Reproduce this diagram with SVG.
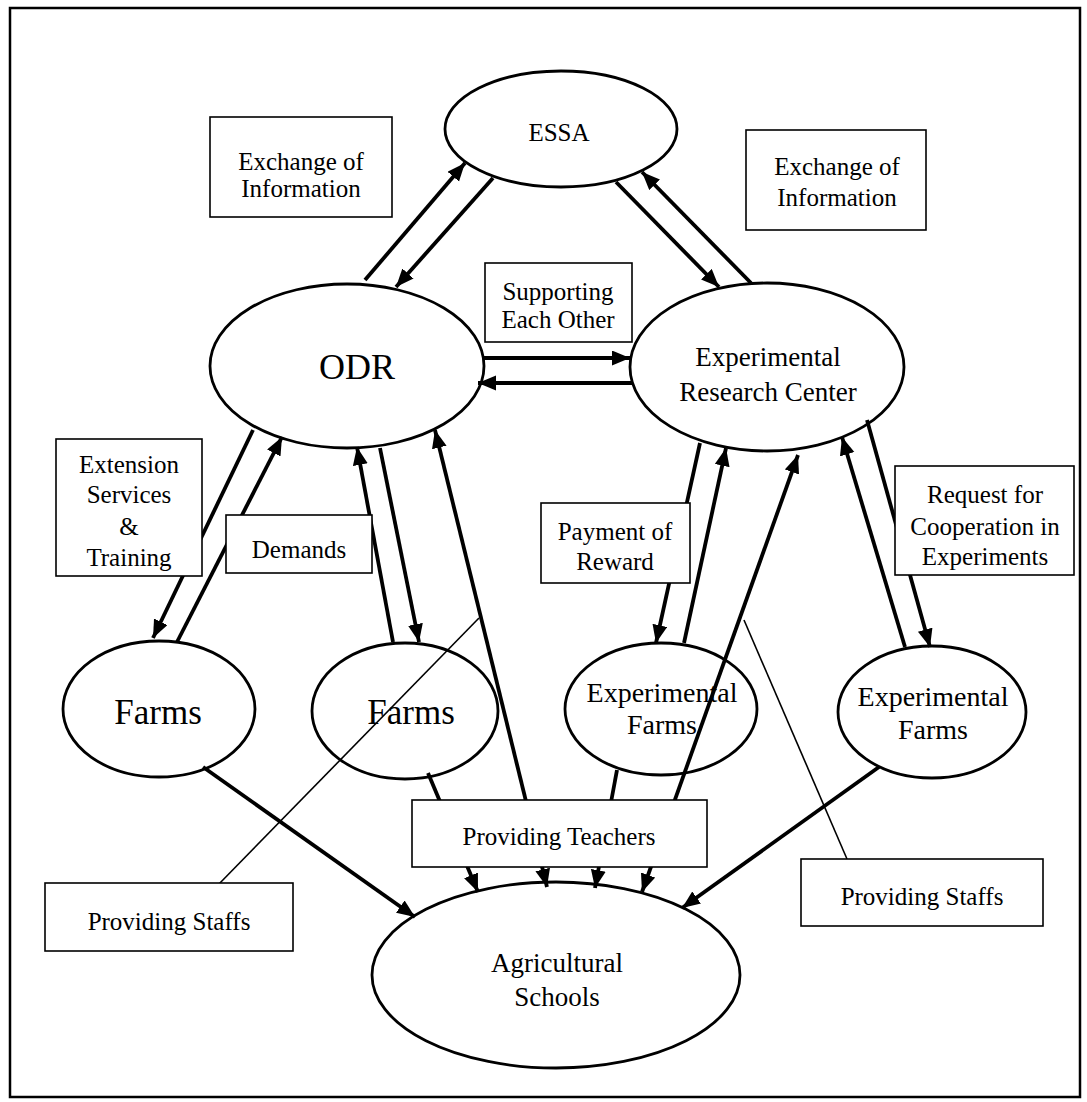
<svg xmlns="http://www.w3.org/2000/svg" width="1087" height="1102" viewBox="0 0 1087 1102">
<style>
  .frame{fill:none;stroke:#000;stroke-width:2.5}
  .node ellipse{fill:none;stroke:#000;stroke-width:2.8}
  .lbl rect{fill:#fff;stroke:#000;stroke-width:1.6}
  text{font-family:"Liberation Serif","Times New Roman",serif;fill:#000;text-anchor:middle}
  .t25{font-size:25px}
  .t27{font-size:27px}
  .t28{font-size:28px}
  .t35{font-size:35px}
  .t36{font-size:36px}
  .conn line{stroke:#000;stroke-width:3.8;fill:none}
  .conn line.thin{stroke-width:1.6}
  .conn line.a{marker-end:url(#ah)}
  .conn line.b{marker-start:url(#ah);marker-end:url(#ah)}
</style>
<defs>
  <marker id="ah" markerUnits="userSpaceOnUse" markerWidth="20" markerHeight="16" refX="18" refY="7.5" orient="auto-start-reverse">
    <path d="M0,0 L18,7.5 L0,15 z" fill="#000"/>
  </marker>
</defs>
<rect width="1087" height="1102" fill="#fff"/>
<rect class="frame" x="10" y="8" width="1070" height="1089"/>

<g id="connectors" class="conn">
  <line class="a" x1="365" y1="280" x2="465" y2="163"/>
  <line class="a" x1="493" y1="178" x2="396" y2="287"/>
  <line class="a" x1="616" y1="182" x2="719" y2="287"/>
  <line class="a" x1="751" y1="283" x2="642" y2="172"/>
  <line class="a" x1="483" y1="358" x2="630" y2="358"/>
  <line class="a" x1="632" y1="383" x2="478" y2="383"/>
  <line class="a" x1="253" y1="430" x2="153" y2="638"/>
  <line class="a" x1="177" y1="642" x2="282" y2="437"/>
  <line class="a" x1="393" y1="642" x2="357" y2="447"/>
  <line class="a" x1="380" y1="448" x2="419" y2="642"/>
  <line class="b" x1="547" y1="887" x2="435" y2="430"/>
  <line class="a" x1="700" y1="443" x2="656" y2="643"/>
  <line class="a" x1="684" y1="643" x2="726" y2="448"/>
  <line class="b" x1="642" y1="892" x2="798" y2="455"/>
  <line class="a" x1="905" y1="647" x2="842" y2="437"/>
  <line class="a" x1="867" y1="420" x2="930" y2="647"/>
  <line class="a" x1="203" y1="767" x2="415" y2="917"/>
  <line class="a" x1="428" y1="773" x2="478" y2="892"/>
  <line class="a" x1="617" y1="770" x2="595" y2="888"/>
  <line class="a" x1="879" y1="767" x2="682" y2="908"/>
  <line class="thin" x1="479" y1="618" x2="218" y2="885"/>
  <line class="thin" x1="744" y1="620" x2="847" y2="859"/>
</g>

<g id="essa" class="node">
  <ellipse cx="561" cy="129" rx="116" ry="58"/>
  <text class="t25" x="559" y="141">ESSA</text>
</g>
<g id="odr" class="node">
  <ellipse cx="347" cy="366" rx="137" ry="82"/>
  <text class="t36" x="357" y="379">ODR</text>
</g>
<g id="erc" class="node">
  <ellipse cx="767" cy="367" rx="137" ry="84"/>
  <text class="t27" x="768" y="366">Experimental</text>
  <text class="t27" x="768" y="401">Research Center</text>
</g>
<g id="farms1" class="node">
  <ellipse cx="159" cy="709" rx="96" ry="68"/>
  <text class="t35" x="158" y="724">Farms</text>
</g>
<g id="farms2" class="node">
  <ellipse cx="405" cy="711" rx="93" ry="68"/>
  <text class="t35" x="411" y="724">Farms</text>
</g>
<g id="expfarms1" class="node">
  <ellipse cx="661" cy="709" rx="96" ry="66"/>
  <text class="t28" x="662" y="702">Experimental</text>
  <text class="t28" x="662" y="734">Farms</text>
</g>
<g id="expfarms2" class="node">
  <ellipse cx="932" cy="712" rx="94" ry="66"/>
  <text class="t28" x="933" y="706">Experimental</text>
  <text class="t28" x="933" y="739">Farms</text>
</g>
<g id="schools" class="node">
  <ellipse cx="556" cy="975" rx="184" ry="93"/>
  <text class="t27" x="557" y="972">Agricultural</text>
  <text class="t27" x="557" y="1006">Schools</text>
</g>

<g id="lbl-exchange-left" class="lbl">
  <rect x="210" y="117" width="182" height="100"/>
  <text class="t25" x="301" y="170">Exchange of</text>
  <text class="t25" x="301" y="197">Information</text>
</g>
<g id="lbl-exchange-right" class="lbl">
  <rect x="746" y="130" width="180" height="100"/>
  <text class="t25" x="837" y="175">Exchange of</text>
  <text class="t25" x="837" y="206">Information</text>
</g>
<g id="lbl-supporting" class="lbl">
  <rect x="485" y="263" width="147" height="79"/>
  <text class="t25" x="558" y="300">Supporting</text>
  <text class="t25" x="558" y="328">Each Other</text>
</g>
<g id="lbl-extension" class="lbl">
  <rect x="56" y="439" width="146" height="137"/>
  <text class="t25" x="129" y="473">Extension</text>
  <text class="t25" x="129" y="503">Services</text>
  <text class="t25" x="129" y="535">&amp;</text>
  <text class="t25" x="129" y="566">Training</text>
</g>
<g id="lbl-demands" class="lbl">
  <rect x="226" y="515" width="146" height="58"/>
  <text class="t25" x="299" y="558">Demands</text>
</g>
<g id="lbl-payment" class="lbl">
  <rect x="541" y="503" width="149" height="80"/>
  <text class="t25" x="615" y="540">Payment of</text>
  <text class="t25" x="615" y="570">Reward</text>
</g>
<g id="lbl-request" class="lbl">
  <rect x="895" y="466" width="179" height="109"/>
  <text class="t25" x="985" y="503">Request for</text>
  <text class="t25" x="985" y="535">Cooperation in</text>
  <text class="t25" x="985" y="565">Experiments</text>
</g>
<g id="lbl-teachers" class="lbl">
  <rect x="412" y="800" width="295" height="67"/>
  <text class="t25" x="559" y="845">Providing Teachers</text>
</g>
<g id="lbl-staffs-left" class="lbl">
  <rect x="45" y="883" width="248" height="68"/>
  <text class="t25" x="169" y="930">Providing Staffs</text>
</g>
<g id="lbl-staffs-right" class="lbl">
  <rect x="801" y="859" width="242" height="67"/>
  <text class="t25" x="922" y="905">Providing Staffs</text>
</g>
</svg>
